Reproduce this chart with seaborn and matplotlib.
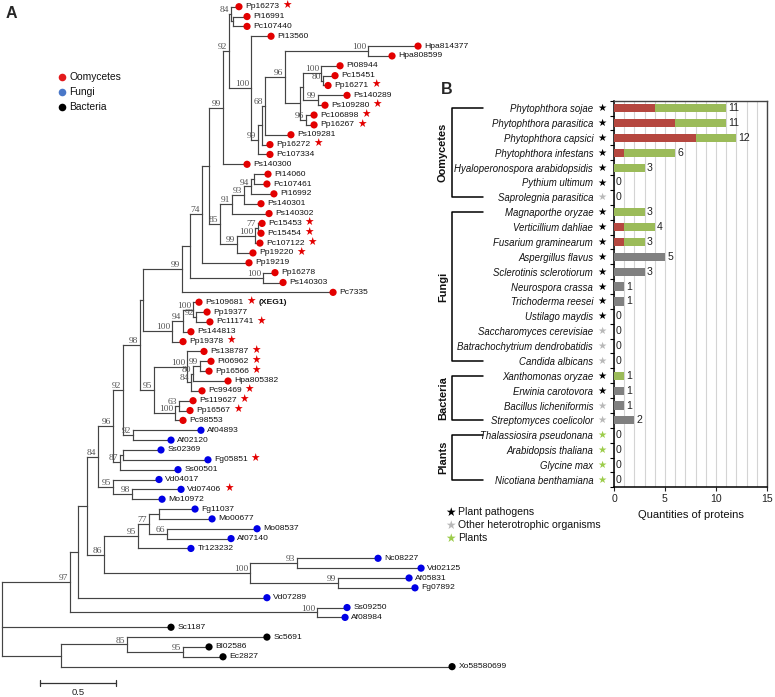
import numpy as np
import pandas as pd
import matplotlib
matplotlib.use("Agg")
import matplotlib.pyplot as plt
import matplotlib.transforms as mtransforms
from matplotlib.collections import LineCollection
import seaborn as sns

sns.set_theme(style="white")
plt.rcParams["font.family"] = ["Liberation Sans", "DejaVu Sans"]

# ---------------------------------------------------------------- data A
leaf_names = ["Pp16273", "Pi16991", "Pc107440", "Pi13560", "Hpa814377", "Hpa808599",
              "Pi08944", "Pc15451", "Pp16271", "Ps140289", "Ps109280", "Pc106898",
              "Pp16267", "Ps109281", "Pp16272", "Pc107334", "Ps140300", "Pi14060",
              "Pc107461", "Pi16992", "Ps140301", "Ps140302", "Pc15453", "Pc15454",
              "Pc107122", "Pp19220", "Pp19219", "Pp16278", "Ps140303", "Pc7335",
              "Ps109681", "Pp19377", "Pc111741", "Ps144813", "Pp19378", "Ps138787",
              "Pi06962", "Pp16566", "Hpa805382", "Pc99469", "Ps119627", "Pp16567",
              "Pc98553", "Af04893", "Af02120", "Ss02369", "Fg05851", "Ss00501",
              "Vd04017", "Vd07406", "Mo10972", "Fg11037", "Mo00677", "Mo08537",
              "Af07140", "Tr123232", "Nc08227", "Vd02125", "Af05831", "Fg07892",
              "Vd07289", "Ss09250", "Af08984", "Sc1187", "Sc5691", "Bl02586",
              "Ec2827", "Xo58580699"]
# distance of each leaf from the root (substitutions / site)
leaf_depth = [1.559, 1.612, 1.612, 1.770, 2.737, 2.566, 2.224, 2.191, 2.145, 2.270,
              2.125, 2.053, 2.053, 1.901, 1.763, 1.763, 1.612, 1.750, 1.743, 1.789,
              1.704, 1.757, 1.711, 1.704, 1.697, 1.651, 1.625, 1.796, 1.849, 2.178,
              1.296, 1.349, 1.368, 1.243, 1.191, 1.329, 1.375, 1.362, 1.487, 1.316,
              1.257, 1.237, 1.191, 1.309, 1.112, 1.046, 1.355, 1.158, 1.033, 1.178,
              1.053, 1.270, 1.382, 1.678, 1.507, 1.243, 2.474, 2.757, 2.678, 2.717,
              1.743, 2.270, 2.257, 1.112, 1.743, 1.362, 1.454, 2.961]
leaf_group = (["Oomycetes"] * 43) + (["Fungi"] * 20) + (["Bacteria"] * 5)
star_leaves = ["Pp16273", "Pp16271", "Ps109280", "Pc106898", "Pp16267", "Pp16272",
               "Pc15453", "Pc15454", "Pc107122", "Pp19220", "Ps109681", "Pc111741",
               "Pp19378", "Ps138787", "Pi06962", "Pp16566", "Pc99469", "Ps119627",
               "Pp16567", "Fg05851", "Vd07406"]
note_leaf = {"Ps109681": "(XEG1)"}

# internal nodes: children, distance from root, bootstrap support
node_names = ["root", "n97", "n78", "n87", "n84a", "n96a", "n92a", "n98", "nA", "n99a",
              "nB", "n74", "nC", "n99b", "n92b", "n84b", "nD", "n100b", "n99c", "nE",
              "n68", "n96b", "n100c", "nF", "nG", "n100d", "n80a", "n99d", "n96c",
              "n85", "n91", "n93a", "n94a", "nK", "n99e", "n100e", "n77a", "n100h",
              "n100a", "n94b", "n100f", "n92d", "n95o", "n100g", "n84c", "n80b",
              "n99f", "n100i", "n63", "n92c", "n87b", "nI", "n95a", "n98b", "n86",
              "n95b", "n77b", "nJ", "n66", "n100j", "n93b", "n99g", "nSs", "n61",
              "n85b", "n95c"]
node_children = [
    ["n97", "Sc1187", "n61"], ["n78", "nSs"], ["n87", "Vd07289"], ["n84a", "n86"],
    ["n96a", "n95a"], ["n92a", "n87b"], ["n98", "n92c"], ["nA", "n95o"],
    ["n99a", "n100a"], ["nB", "Pc7335"], ["n74", "n100h"], ["nC", "Pp19219"],
    ["n99b", "n85"], ["n92b", "Ps140300"], ["n84b", "n100b"], ["Pp16273", "nD"],
    ["Pi16991", "Pc107440"], ["Pi13560", "n99c"], ["nE", "Pc107334"],
    ["n68", "Pp16272"], ["n96b", "Ps109281"], ["n100c", "nF"],
    ["Hpa814377", "Hpa808599"], ["nG", "n96c"], ["n100d", "n99d"],
    ["Pi08944", "n80a"], ["Pc15451", "Pp16271"], ["Ps140289", "Ps109280"],
    ["Pc106898", "Pp16267"], ["n91", "n99e"], ["n93a", "Ps140302"],
    ["n94a", "Ps140301"], ["nK", "Pi16992"], ["Pi14060", "Pc107461"],
    ["n100e", "Pp19220"], ["n77a", "Pc107122"], ["Pc15453", "Pc15454"],
    ["Pp16278", "Ps140303"], ["n94b", "Pp19378"], ["n100f", "Ps144813"],
    ["Ps109681", "n92d"], ["Pp19377", "Pc111741"], ["n100g", "n100i"],
    ["Ps138787", "n84c"], ["n80b", "Pc99469"], ["n99f", "Hpa805382"],
    ["Pi06962", "Pp16566"], ["n63", "Pc98553"], ["Ps119627", "Pp16567"],
    ["Af04893", "Af02120"], ["nI", "Ss00501"], ["Ss02369", "Fg05851"],
    ["Vd04017", "n98b"], ["Vd07406", "Mo10972"], ["n95b", "n100j"],
    ["n77b", "Tr123232"], ["nJ", "n66"], ["Fg11037", "Mo00677"],
    ["Mo08537", "Af07140"], ["n93b", "n99g"], ["Nc08227", "Vd02125"],
    ["Af05831", "Fg07892"], ["Ss09250", "Af08984"], ["n85b", "Xo58580699"],
    ["Sc5691", "n95c"], ["Bl02586", "Ec2827"]]
node_depth = [0.000, 0.447, 0.500, 0.559, 0.632, 0.730, 0.796, 0.908, 0.928, 1.184,
              1.237, 1.316, 1.362, 1.454, 1.493, 1.507, 1.520, 1.638, 1.684, 1.711,
              1.730, 1.862, 2.408, 1.961, 1.980, 2.099, 2.112, 2.079, 2.000,
              1.434, 1.513, 1.592, 1.638, 1.658, 1.546, 1.664, 1.684, 1.717,
              1.118, 1.191, 1.257, 1.276, 1.000, 1.217, 1.243, 1.257,
              1.303, 1.138, 1.164, 0.862, 0.776, 0.796, 0.730, 0.855, 0.671,
              0.895, 0.967, 1.033, 1.086, 1.632, 1.941, 2.211, 2.072, 0.388,
              0.822, 1.191]
node_support = [None, 97, None, None, 84, 96, 92, 98, None, 99,
                None, 74, None, 99, 92, 84, None, 100, 99, None,
                68, 96, 100, None, None, 100, 80, 99, 96,
                85, 91, 93, 94, None, 99, 100, 77, 100,
                100, 94, 100, 92, 95, 100, 84, 80,
                99, 100, 63, 92, 87, None, 95, 98, 86,
                95, 77, None, 66, 100, 93, 99, 100, None,
                85, 95]

# ---------------------------------------------------------------- data B
species = ["Phytophthora sojae", "Phytophthora parasitica", "Phytophthora capsici",
           "Phytophthora infestans", "Hyaloperonospora arabidopsidis", "Pythium ultimum",
           "Saprolegnia parasitica", "Magnaporthe oryzae", "Verticillium dahliae",
           "Fusarium graminearum", "Aspergillus flavus", "Sclerotinis sclerotiorum",
           "Neurospora crassa", "Trichoderma reesei", "Ustilago maydis",
           "Saccharomyces cerevisiae", "Batrachochytrium dendrobatidis",
           "Candida albicans", "Xanthomonas oryzae", "Erwinia carotovora",
           "Bacillus licheniformis", "Streptomyces coelicolor",
           "Thalassiosira pseudonana", "Arabidopsis thaliana", "Glycine max",
           "Nicotiana benthamiana"]
red_vals = [4, 6, 8, 1, 0, 0, 0, 0, 1, 1, 0, 0, 0, 0, 0, 0, 0, 0, 0, 0, 0, 0, 0, 0, 0, 0]
green_vals = [7, 5, 4, 5, 3, 0, 0, 3, 3, 2, 0, 0, 0, 0, 0, 0, 0, 0, 1, 0, 0, 0, 0, 0, 0, 0]
gray_vals = [0, 0, 0, 0, 0, 0, 0, 0, 0, 0, 5, 3, 1, 1, 0, 0, 0, 0, 0, 1, 1, 2, 0, 0, 0, 0]
organism_type = ["P", "P", "P", "P", "P", "P", "O", "P", "P", "P", "P", "P", "P", "P",
                 "P", "O", "O", "O", "P", "P", "O", "O", "L", "L", "L", "L"]
group_names = ["Oomycetes", "Fungi", "Bacteria", "Plants"]
group_sizes = [7, 11, 4, 4]
legend_B = ["Plant pathogens", "Other heterotrophic organisms", "Plants"]

# ---------------------------------------------------------------- style
RED_BAR, GREEN_BAR, GRAY_BAR = "#b5473f", "#9bbb59", "#808080"
STAR_COL = {"P": "#000000", "O": "#b8b8b8", "L": "#9ccc4a"}
DOT_COL = {"Oomycetes": "#e30000", "Fungi": "#0000e6", "Bacteria": "#000000"}
LEG_DOT = ["#e31a1c", "#4a78c8", "#000000"]
W, H = 775, 697

fig = plt.figure(figsize=(W / 100, H / 100), dpi=100)


def px_rect(l, t, r, b):
    return [l / W, 1 - b / H, (r - l) / W, (b - t) / H]


# ---------------------------------------------------------------- tree layout
children = dict(zip(node_names, node_children))
depth = dict(zip(leaf_names, leaf_depth))
depth.update(zip(node_names, node_depth))
support = dict(zip(node_names, node_support))
group_of = dict(zip(leaf_names, leaf_group))

order = []


def walk(n):
    if n in children:
        for c in children[n]:
            walk(c)
    else:
        order.append(n)


walk("root")
ypos = {n: i for i, n in enumerate(order)}


def place(n):
    if n in children:
        ys = [place(c) for c in children[n]]
        ypos[n] = (ys[0] + ys[-1]) / 2
    return ypos[n]


place("root")

segs = []
for n in node_names:
    ch = children[n]
    segs.append([(depth[n], ypos[ch[0]]), (depth[n], ypos[ch[-1]])])
    for c in ch:
        segs.append([(depth[n], ypos[c]), (depth[c], ypos[c])])

UNIT_PX, ROW_PX, X0, Y0 = 152.0, 9.85, 2.0, 6.7
axT = fig.add_axes([0, 0, 1, 1])
axT.add_collection(LineCollection(segs, colors="#444444", linewidths=0.85,
                                  capstyle="projecting"))

leaf_df = pd.DataFrame({"depth": [depth[n] for n in order],
                        "row": [ypos[n] for n in order],
                        "group": [group_of[n] for n in order]})
sns.scatterplot(data=leaf_df, x="depth", y="row", hue="group", palette=DOT_COL,
                s=27, linewidth=0, legend=False, ax=axT, zorder=3)

for n in order:
    t = axT.annotate(n, xy=(depth[n], ypos[n]), xytext=(4.6, 0),
                     textcoords="offset points", ha="left", va="center",
                     fontsize=6.1, color="#111111")
    if n in star_leaves:
        s = axT.annotate("★", xy=(1, 0.5), xycoords=t, xytext=(1.8, 0.3),
                         textcoords="offset points", ha="left", va="center",
                         fontsize=7.6, color="#e30000", family="DejaVu Sans")
        if n in note_leaf:
            axT.annotate(note_leaf[n], xy=(1, 0.5), xycoords=s, xytext=(2.5, -0.3),
                         textcoords="offset points", ha="left", va="center",
                         fontsize=6.1, fontweight="bold", color="#111111")

for n in node_names:
    if support[n] is not None:
        axT.annotate(str(support[n]), xy=(depth[n], ypos[n]), xytext=(-1.2, 1.4),
                     textcoords="offset points", ha="right", va="baseline",
                     fontsize=6.8, family="Liberation Serif", color="#555555")

# scale bar (0.5 substitutions)
sb_row = (683 - Y0) / ROW_PX
axT.plot([0.25, 0.75], [sb_row, sb_row], color="#333333", lw=0.9)
for xb in (0.25, 0.75):
    axT.plot([xb, xb], [sb_row - 0.3, sb_row + 0.3], color="#333333", lw=0.9)
axT.text(0.5, sb_row + 1.0, "0.5", ha="center", va="center", fontsize=6.8,
         color="#222222")

axT.set_xlim(-X0 / UNIT_PX, (W - X0) / UNIT_PX)
axT.set_ylim((H - Y0) / ROW_PX, -Y0 / ROW_PX)
axT.axis("off")

# ---------------------------------------------------------------- overlay (letters, legend A/B)
axO = fig.add_axes([0, 0, 1, 1])
axO.set_xlim(0, W)
axO.set_ylim(H, 0)
axO.axis("off")
axO.text(6, 14, "A", fontsize=11.5, fontweight="bold", ha="left", va="center")
axO.text(441, 89, "B", fontsize=11.5, fontweight="bold", ha="left", va="center")
for i, (lab, col) in enumerate(zip(["Oomycetes", "Fungi", "Bacteria"], LEG_DOT)):
    yy = 77 + 15 * i
    axO.scatter([62], [yy], s=30, color=col, linewidth=0)
    axO.text(69, yy, lab, fontsize=7.4, ha="left", va="center", color="#111111")
for i, (lab, key) in enumerate(zip(legend_B, ["P", "O", "L"])):
    yy = 512 + 13.2 * i
    axO.text(450, yy, "★", fontsize=8.5, ha="center", va="center",
             color=STAR_COL[key], family="DejaVu Sans")
    axO.text(458, yy, lab, fontsize=7.6, ha="left", va="center", color="#111111")

# ---------------------------------------------------------------- panel B
df = pd.DataFrame({"species": species, "red": red_vals, "green": green_vals,
                   "gray": gray_vals})
df["red_green"] = df["red"] + df["green"]
df["total"] = df["red"] + df["green"] + df["gray"]

axB = fig.add_axes(px_rect(614, 100.7, 767, 487.3))
common = dict(y="species", orient="h", width=0.55, errorbar=None, saturation=1,
              linewidth=0, ax=axB, zorder=3)
sns.barplot(data=df, x="red_green", color=GREEN_BAR, **common)
sns.barplot(data=df, x="red", color=RED_BAR, **common)
sns.barplot(data=df, x="gray", color=GRAY_BAR, **common)

axB.set_xlim(0, 15)
axB.set_ylim(len(species) - 0.5, -0.5)
axB.set_xticks([0, 5, 10, 15])
axB.set_xticks(np.arange(0, 16, 1), minor=True)
axB.xaxis.grid(True, which="both", color="#d4d4d4", lw=0.8)
axB.yaxis.grid(False)
axB.set_axisbelow(True)
axB.tick_params(axis="x", which="major", bottom=True, length=3, width=0.8,
                labelsize=7.6, pad=2, colors="#222222")
axB.tick_params(axis="x", which="minor", bottom=False, length=0)
axB.set_yticks(range(len(species)))
axB.set_yticklabels(species, fontsize=6.9, style="italic", color="#111111")
axB.tick_params(axis="y", which="major", left=False, length=0, pad=15)
axB.set_yticks(np.arange(-0.5, len(species), 1), minor=True)
axB.tick_params(axis="y", which="minor", left=True, length=3, width=0.8,
                direction="out", color="#000000")
axB.set_ylabel("")
axB.set_xlabel("Quantities of proteins", fontsize=8, labelpad=4, color="#111111")
for side in ["left", "bottom"]:
    axB.spines[side].set_color("#000000")
    axB.spines[side].set_linewidth(1.1)
for side in ["top", "right"]:
    axB.spines[side].set_color("#444444")
    axB.spines[side].set_linewidth(1.0)

for i, tot in enumerate(df["total"]):
    axB.annotate(str(tot), xy=(tot, i), xytext=(1.5, 0), textcoords="offset points",
                 ha="left", va="center", fontsize=7.6, color="#222222")

trB = mtransforms.blended_transform_factory(axB.transAxes, axB.transData)
for i, kind in enumerate(organism_type):
    axB.text(-0.078, i, "★", transform=trB, ha="center", va="center", fontsize=7.4,
             color=STAR_COL[kind], family="DejaVu Sans", clip_on=False)

bx0, bx1, blab = (452 - 614) / 153, (483 - 614) / 153, (443 - 614) / 153
start = 0
for gname, gsize in zip(group_names, group_sizes):
    first, last = start, start + gsize - 1
    axB.plot([bx1, bx0, bx0, bx1], [first, first, last, last], transform=trB,
             color="#000000", lw=1.1, clip_on=False)
    axB.text(blab, (first + last) / 2, gname, transform=trB, rotation=90,
             ha="center", va="center", fontsize=7.9, fontweight="bold",
             color="#111111")
    start += gsize

fig.savefig("out.png", dpi=100)
